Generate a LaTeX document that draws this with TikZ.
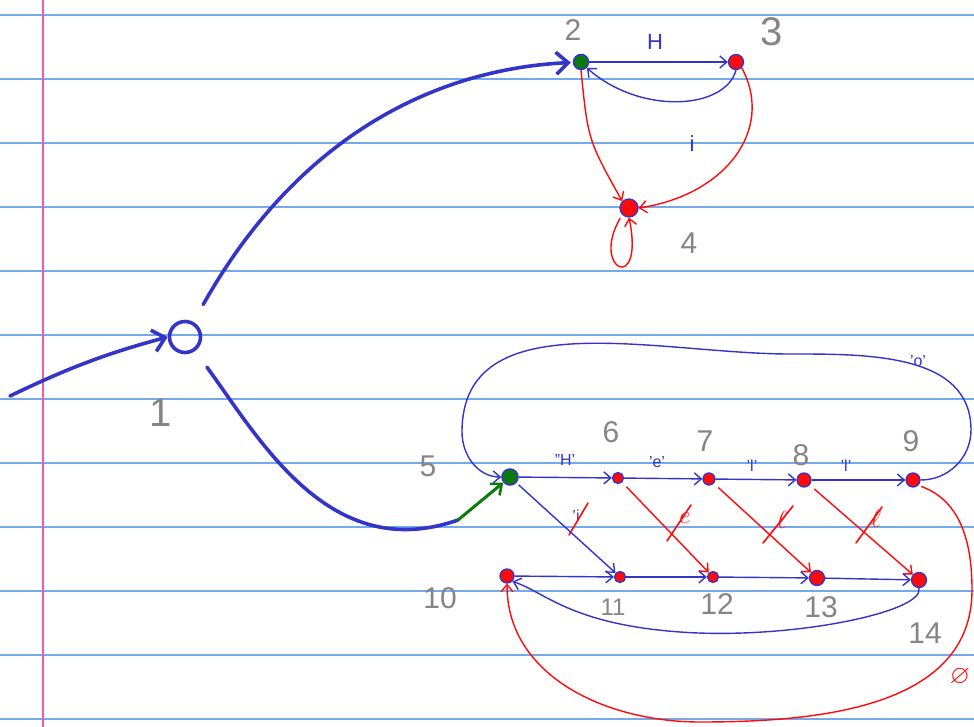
\documentclass[tikz,border=0pt]{standalone}
\usepackage{fontspec}
\setsansfont{Liberation Sans}
\usepackage{amssymb}
\usetikzlibrary{arrows.meta}
\definecolor{inkblue}{HTML}{3434C8}
\definecolor{inkred}{HTML}{FF0A0A}
\definecolor{inkgreen}{HTML}{0B7A0B}
\definecolor{numgray}{HTML}{858585}
\definecolor{paperline}{HTML}{74AAEA}
\definecolor{margin}{HTML}{F55AAA}
\tikzset{
  paper/.style={draw=paperline, line width=1.2pt},
  thinblue/.style={draw=inkblue, line width=1.4pt, -{Straight Barb[length=7pt,width=12pt,line width=1.4pt]}},
  thinred/.style={draw=inkred, line width=1.4pt, -{Straight Barb[length=7pt,width=12pt,line width=1.4pt]}},
  thickblue/.style={draw=inkblue, line width=3.6pt, line cap=round},
  thickarrow/.style={-{Straight Barb[length=12pt,width=22pt,line width=3.6pt]}},
  reddot/.style={circle, fill=inkred, draw=inkblue, line width=1.3pt, inner sep=0pt, minimum size=#1},
  greendot/.style={circle, fill=inkgreen, draw=inkblue, line width=1.5pt, inner sep=0pt, minimum size=#1},
  num/.style={text=numgray, font=\sffamily\fontsize{30}{30}\selectfont},
  bignum/.style={text=numgray, font=\sffamily\fontsize{40}{40}\selectfont},
  smallnum/.style={text=numgray, font=\sffamily\fontsize{24}{24}\selectfont},
  bluelab/.style={text=inkblue, font=\sffamily\fontsize{22}{22}\selectfont},
  smlab/.style={text=inkblue, font=\sffamily\fontsize{16}{16}\selectfont},
  redlab/.style={text=inkred, font=\fontsize{26}{26}\selectfont},
  slash/.style={draw=inkred, line width=1.6pt, line cap=round}
}
\begin{document}
\begin{tikzpicture}[x=1pt,y=-1pt]
\useasboundingbox (0,0) rectangle (974,727);
\fill[white] (0,0) rectangle (974,727);
\foreach \k in {0,...,11} \draw[paper] (0,{15+64*\k}) -- (974,{15+64*\k});
\draw[draw=margin, line width=1.6pt] (43,0) -- (43,727);

% nodes
\node[circle, draw=inkblue, line width=3.6pt, minimum size=31pt, inner sep=0pt] (n1) at (185,337) {};
\node[greendot=15pt] (n2) at (581,62) {};
\node[reddot=15pt] (n3) at (736,62) {};
\node[reddot=18pt] (n4) at (629,208) {};
\node[greendot=16pt] (n5) at (510,477) {};
\node[reddot=11pt] (n6) at (618,478) {};
\node[reddot=12pt] (n7) at (709,479) {};
\node[reddot=14pt] (n8) at (804,480) {};
\node[reddot=14pt] (n9) at (913,480) {};
\node[reddot=14pt] (n10) at (507,576) {};
\node[reddot=11pt] (n11) at (620,577) {};
\node[reddot=11pt] (n12) at (713,577) {};
\node[reddot=15pt] (n13) at (817,578) {};
\node[reddot=15pt] (n14) at (919,580) {};
\coordinate (start) at (10,396);
\coordinate (bend5) at (458,520);

% number labels
\node[bignum] (l1) at (161,413) {1};
\node[num] (l2) at (573,30) {2};
\node[bignum] (l3) at (772,32) {3};
\node[num] (l4) at (689,243) {4};
\node[num] (l5) at (428,466) {5};
\node[num] (l6) at (611,432) {6};
\node[num] (l7) at (705,441) {7};
\node[num] (l8) at (801,455) {8};
\node[num] (l9) at (911,441) {9};
\node[num] (l10) at (440,598) {10};
\node[smallnum] (l11) at (613,607) {11};
\node[num] (l12) at (717,604) {12};
\node[num] (l13) at (821,607) {13};
\node[num] (l14) at (925,633) {14};

% edge labels
\node[bluelab] (eH) at (655,42) {H};
\node[bluelab] (ei) at (692,144) {i};
\node[smlab] (e56) at (565,460) {''H'};
\node[smlab] (e67) at (657,462) {'e'};
\node[smlab] (e78) at (752,466) {'l'};
\node[smlab] (e89) at (846,466) {'l'};
\node[smlab] (e95) at (918,361) {'o'};
\node[smlab] (e511) at (576,516) {'i};
\draw[slash] (569,535) -- (588,503);
\node[redlab] (e612) at (685,518) {$e$};
\draw[slash] (667,541) -- (691,505);
\node[redlab] (e713) at (782,520) {$\ell$};
\draw[slash] (763,543) -- (793,506);
\node[redlab] (e814) at (876,519) {$\ell$};
\draw[slash] (856,543) -- (882,507);
\node[redlab] (e910) at (960,677) {$\varnothing$};

% top part
\draw[thickblue, thickarrow] (start) .. controls (60,372) and (100,355) .. (n1.west);
\draw[thickblue, thickarrow, shorten <=20pt, shorten >=2pt] (n1) .. controls (290,150) and (420,70) .. (n2);
\draw[thinblue] (n2) -- (n3);
\draw[thinblue] (n3.south) .. controls (725,110) and (640,115) .. (n2.south east);
\draw[thinred] (n2.south) .. controls (588,140) .. (n4.north west);
\draw[thinred] (n3.south east) .. controls (775,130) and (725,195) .. (n4.east);
\draw[thinred, shorten <=4pt] (n4.south west) .. controls (590,270) and (645,295) .. (n4.south);

% bottom part
\draw[thickblue, shorten <=20pt] (n1) .. controls (260,440) and (330,565) .. (bend5);
\draw[draw=inkgreen, line width=3pt, line cap=round, -{Straight Barb[length=9pt,width=15pt,line width=2.6pt]}] (bend5) -- (n5);
\draw[thinblue] (n5) -- (n6);
\draw[thinblue] (n6) -- (n7);
\draw[thinblue] (n7) -- (n8);
\draw[thinblue] (n8) -- (n9);
\draw[thinblue] (n9.east) to[out=0,in=-90] (971,430) to[out=90,in=0] (790,354) to[out=180,in=90] (462,432) to[out=-90,in=180] (n5.west);
\draw[thinblue, shorten <=3pt] (n5) -- (n11);
\draw[thinred, shorten <=6pt] (n6) -- (n12);
\draw[thinred, shorten <=6pt] (n7) -- (n13);
\draw[thinred, shorten <=6pt] (n8) -- (n14);
\draw[thinblue] (n10) -- (n11);
\draw[thinblue] (n11) -- (n12);
\draw[thinblue] (n12) -- (n13);
\draw[thinblue] (n13) -- (n14);
\draw[thinblue] (n14.south) .. controls (925,612) and (790,640) .. (680,632) .. controls (570,624) and (545,592) .. (n10.south east);
\draw[thinred, shorten <=3pt] (n9.south east) to[out=-20,in=90] (972,590) to[out=-90,in=0] (700,722) to[out=180,in=-90] (n10.south);
\end{tikzpicture}
\end{document}
